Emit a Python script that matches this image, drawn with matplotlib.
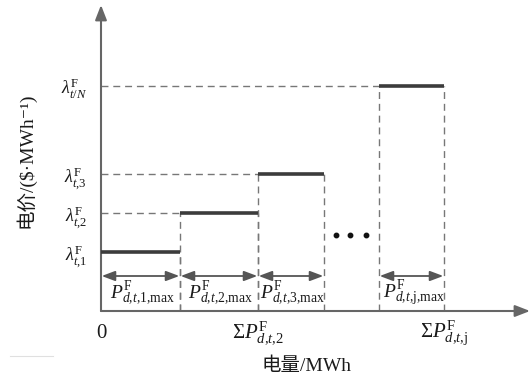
import matplotlib
matplotlib.use("Agg")
import matplotlib.pyplot as plt
from matplotlib.lines import Line2D

plt.rcParams['mathtext.fontset'] = 'custom'
plt.rcParams['mathtext.rm'] = 'Liberation Serif'
plt.rcParams['mathtext.it'] = 'Liberation Serif:italic'
plt.rcParams['mathtext.bf'] = 'Liberation Serif:bold'
plt.rcParams['font.family'] = ['Liberation Serif', 'Noto Sans CJK SC', 'DejaVu Serif']

# ---- data (schematic units) ----
seg_start = [0, 79, 157, 278]
seg_end = [79, 157, 223, 343]
seg_price = [59, 98, 137, 225]
seg_labels = [r'$P^{\rm F}_{d{,}t{,}1{,}{\rm max}}$', r'$P^{\rm F}_{d{,}t{,}2{,}{\rm max}}$',
              r'$P^{\rm F}_{d{,}t{,}3{,}{\rm max}}$', r'$P^{\rm F}_{d{,}t{,}{\rm j{,}max}}$']
price_labels = [r'$\lambda^{\rm F}_{t{,}1}$', r'$\lambda^{\rm F}_{t{,}2}$',
                r'$\lambda^{\rm F}_{t{,}3}$', r'$\lambda^{\rm F}_{t/N}$']
x_tick_pos = [0, 157, 343]
x_tick_labels = ['0', r'$\Sigma P^{\rm F}_{d{,}t{,}2}$', r'$\Sigma P^{\rm F}_{d{,}t{,}{\rm j}}$']
dots_x = [235, 249, 265]
dots_y = [76, 76, 76]
arrow_y = 35
label_y = 18
x_max, y_max = 429, 306

fig = plt.figure(figsize=(5.31, 3.89), dpi=100)
ax = fig.add_axes([101/531, (389-311)/389, (530-101)/531, (311-5)/389])
ax.set_xlim(0, x_max)
ax.set_ylim(0, y_max)
for s in ax.spines.values():
    s.set_visible(False)

axis_col = '#666666'
dash_col = '#777777'
step_col = '#3c3c3c'
txt_col = '#1a1a1a'

# axes with arrows
ax.annotate('', xy=(1.0, 0), xytext=(0, 0), xycoords='axes fraction',
            arrowprops=dict(arrowstyle='-|>,head_length=0.9,head_width=0.35',
                            color=axis_col, lw=1.5, shrinkA=0, shrinkB=0))
ax.annotate('', xy=(0, 1.0), xytext=(0, 0), xycoords='axes fraction',
            arrowprops=dict(arrowstyle='-|>,head_length=0.9,head_width=0.35',
                            color=axis_col, lw=1.5, shrinkA=0, shrinkB=0))

dash = (0, (5, 3.5))
for k in range(len(seg_start)):
    p = seg_price[k]
    if seg_start[k] > 0:
        ax.plot([0, seg_start[k]], [p, p], color=dash_col, lw=1.0, ls=dash)
        ax.plot([seg_start[k], seg_start[k]], [0, p], color=dash_col, lw=1.0, ls=dash)
    ax.plot([seg_end[k], seg_end[k]], [0, p], color=dash_col, lw=1.0, ls=dash)
    ax.plot([seg_start[k], seg_end[k]], [p, p], color=step_col, lw=2.6,
            solid_capstyle='butt', zorder=3)
    ax.annotate('', xy=(seg_end[k], arrow_y), xytext=(seg_start[k], arrow_y),
                arrowprops=dict(arrowstyle='<|-|>,head_length=0.8,head_width=0.3',
                                color='#555555', lw=1.3, shrinkA=0.5, shrinkB=0.5))
    ax.text((seg_start[k] + seg_end[k]) / 2 + 2, label_y, seg_labels[k],
            ha='center', va='center', fontsize=14, color=txt_col)

ax.plot(dots_x, dots_y, 'o', color='#111111', ms=3.2)

ax.set_yticks(seg_price)
ax.set_yticklabels(price_labels)
ax.set_xticks(x_tick_pos)
ax.set_xticklabels(x_tick_labels)
ax.tick_params(axis='y', length=0, pad=10, labelsize=13, labelcolor=txt_col)
ax.tick_params(axis='x', length=0, pad=19.5, labelsize=15, labelcolor=txt_col)
for lab in ax.get_xticklabels():
    lab.set_va('baseline')

ax.set_ylabel('电价/($·MWh⁻¹)', fontsize=14, color=txt_col)
ax.yaxis.set_label_coords(-0.177, 0.493)
ax.yaxis.label.set_va('center')
ax.set_xlabel('电量/MWh', fontsize=14, color=txt_col)
ax.xaxis.set_label_coords(0.48, -0.18)
ax.xaxis.label.set_va('center')

fig.add_artist(Line2D([10/531, 53/531], [1 - 356/389, 1 - 356/389],
                      color='#e0e0e0', lw=0.8))

fig.savefig('out.png', dpi=100)
